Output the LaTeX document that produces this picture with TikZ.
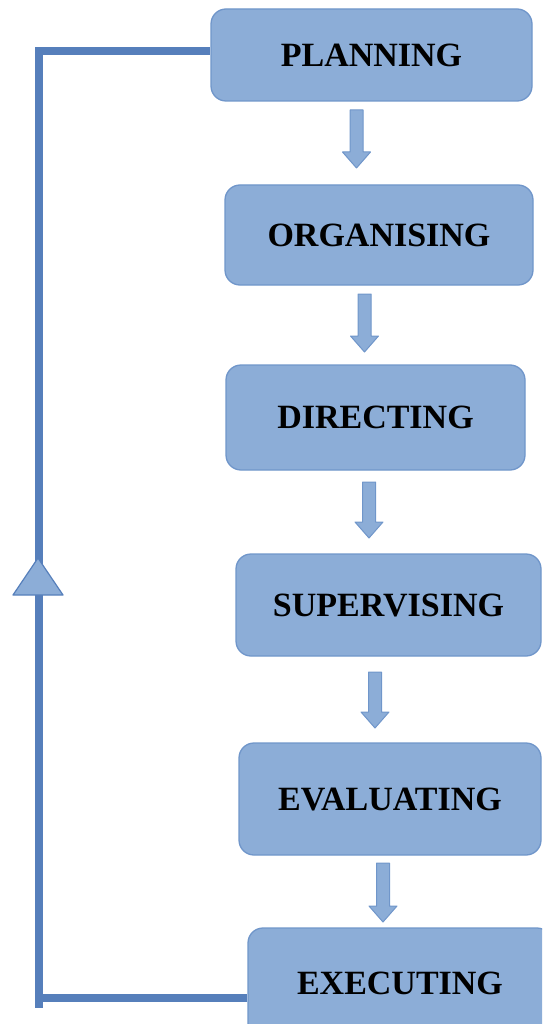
\documentclass[tikz,border=0pt]{standalone}
\usepackage{fontspec}
\setmainfont{Liberation Serif}
\definecolor{boxfill}{RGB}{140,173,215}
\definecolor{boxedge}{RGB}{112,150,202}
\definecolor{loopcol}{RGB}{86,127,187}
\begin{document}
\begin{tikzpicture}[x=1pt,y=-1pt,
  stagebox/.style={draw=boxedge, line width=1.3pt, fill=boxfill, rounded corners=15pt,
    inner sep=0pt, font=\fontsize{34}{40}\selectfont\bfseries, text=black},
  blockarr/.style={draw=boxedge, line width=1pt, fill=boxfill, line join=round},
  loopline/.style={draw=loopcol, line width=8pt, line join=miter},
]
\useasboundingbox (0,0) rectangle (542,1024);
\begin{scope}
\clip (0,0) rectangle (542,1024);
\node[stagebox, minimum width=321pt, minimum height=92pt] (plan) at (371.5,55) {PLANNING};
\node[stagebox, minimum width=308pt, minimum height=100pt] (org) at (379,235) {ORGANISING};
\node[stagebox, minimum width=299pt, minimum height=105pt] (dir) at (375.5,417.5) {DIRECTING};
\node[stagebox, minimum width=305pt, minimum height=102pt] (sup) at (388.5,605) {SUPERVISING};
\node[stagebox, minimum width=302pt, minimum height=112pt] (eva) at (390,799) {EVALUATING};
\node[stagebox, minimum width=304pt, minimum height=110pt] (exe) at (400,983) {EXECUTING};

% block arrows: \blk{centre x}{top}{tip}
\newcommand{\blk}[3]{%
  \draw[blockarr] (#1-6.5,#2) -- (#1+6.5,#2) -- (#1+6.5,#3-16) -- (#1+14,#3-16)
    -- (#1,#3) -- (#1-14,#3-16) -- (#1-6.5,#3-16) -- cycle;}
\blk{356.5}{110}{168}
\blk{364.5}{294}{352}
\blk{369}{482}{538}
\blk{375}{672}{728}
\blk{383}{863}{922}

% feedback loop
\coordinate (lt) at (39,51);
\coordinate (lb) at (39,998);
\coordinate (lend) at (39,1008);
\draw[loopline] (exe.west |- lb) -- (lb) -- (lt) -- (plan.west |- lt);
\draw[loopline] (lb) -- (lend);
\draw[fill=boxfill, draw=loopcol, line width=1.2pt, line join=round]
  (13,595) -- (63,595) -- (38,558) -- cycle;
\end{scope}
\end{tikzpicture}
\end{document}
